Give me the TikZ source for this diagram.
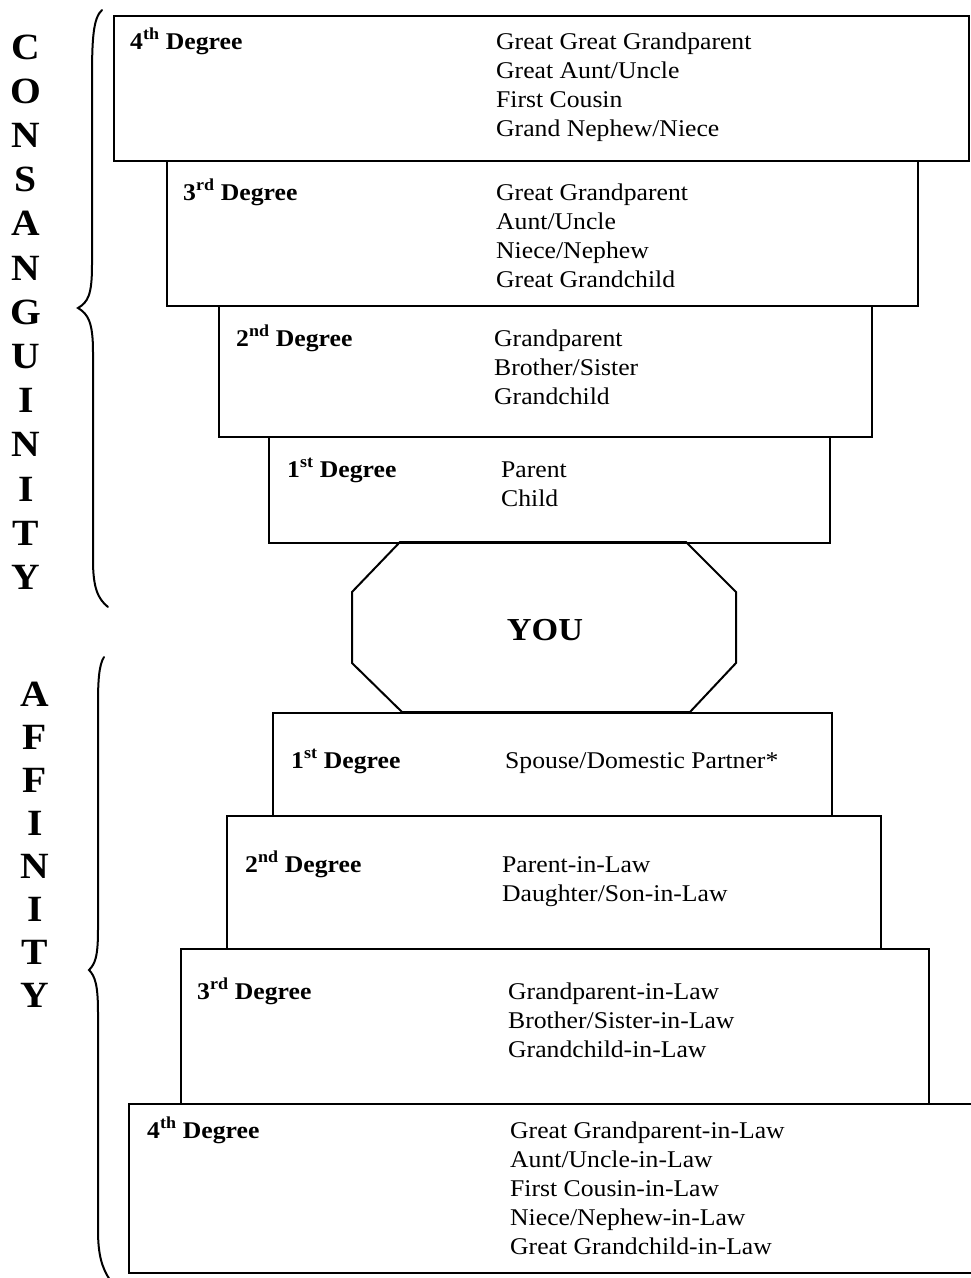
\documentclass[tikz,border=0pt]{standalone}
\usepackage{fontspec}
\setmainfont{Liberation Serif}[FakeStretch=1.07]
\newcommand\degitems[4]{%
  \foreach \t [count=\i from 0] in {#4} {
    \node[itemtext] (#1-\i) at (#2,{#3+29*\i}) {\t};
  }%
}
\begin{document}
\begin{tikzpicture}[x=1pt,y=-1pt,
  box/.style={draw, line width=2pt, anchor=north west, inner sep=0pt},
  itemtext/.style={anchor=base west, inner sep=0pt, font=\fontsize{24}{29}\selectfont},
  deglabel/.style={anchor=base west, inner sep=0pt, font=\fontsize{24}{29}\selectfont\bfseries},
  bigletter/.style={anchor=base, inner sep=0pt, font=\fontsize{37}{40}\selectfont\bfseries},
  bracestyle/.style={line width=2pt, line cap=round}]
\useasboundingbox (0,0) rectangle (971,1278);
% consanguinity boxes
\node[box, minimum width=855pt, minimum height=145pt] (c4) at (113,15) {};
\node[box, minimum width=751pt, minimum height=145pt] (c3) at (166,160) {};
\node[box, minimum width=653pt, minimum height=131pt] (c2) at (218,305) {};
\node[box, minimum width=561pt, minimum height=106pt] (c1) at (268,436) {};
% affinity boxes
\node[box, minimum width=559pt, minimum height=103pt] (a1) at (272,712) {};
\node[box, minimum width=654pt, minimum height=133pt] (a2) at (226,815) {};
\node[box, minimum width=748pt, minimum height=155pt] (a3) at (180,948) {};
\node[box, minimum width=850pt, minimum height=169pt] (a4) at (128,1103) {};
% YOU octagon
\draw[line width=2pt, line join=miter] (400,542) -- (686,542) -- (736,592) -- (736,663) -- (690,712) -- (402,712) -- (352,663) -- (352,592) -- cycle;
\node[anchor=base, inner sep=0pt, font=\fontsize{32}{36}\selectfont\bfseries] (you) at (545,640) {YOU};
% labels
\node[deglabel] (lc4) at (130,49) {4\textsuperscript{th} Degree};
\node[deglabel] (lc3) at (183,200) {3\textsuperscript{rd} Degree};
\node[deglabel] (lc2) at (236,346) {2\textsuperscript{nd} Degree};
\node[deglabel] (lc1) at (287,477) {1\textsuperscript{st} Degree};
\node[deglabel] (la1) at (291,768) {1\textsuperscript{st} Degree};
\node[deglabel] (la2) at (245,872) {2\textsuperscript{nd} Degree};
\node[deglabel] (la3) at (197,999) {3\textsuperscript{rd} Degree};
\node[deglabel] (la4) at (147,1138) {4\textsuperscript{th} Degree};
% items
\degitems{ic4}{496}{49}{Great Great Grandparent,Great Aunt/Uncle,First Cousin,Grand Nephew/Niece}
\degitems{ic3}{496}{200}{Great Grandparent,Aunt/Uncle,Niece/Nephew,Great Grandchild}
\degitems{ic2}{494}{346}{Grandparent,Brother/Sister,Grandchild}
\degitems{ic1}{501}{477}{Parent,Child}
\degitems{ia1}{505}{768}{Spouse/Domestic Partner*}
\degitems{ia2}{502}{872}{Parent-in-Law,Daughter/Son-in-Law}
\degitems{ia3}{508}{999}{Grandparent-in-Law,Brother/Sister-in-Law,Grandchild-in-Law}
\degitems{ia4}{510}{1138}{Great Grandparent-in-Law,Aunt/Uncle-in-Law,First Cousin-in-Law,Niece/Nephew-in-Law,Great Grandchild-in-Law}
% vertical words
\foreach \L [count=\i from 0] in {C,O,N,S,A,N,G,U,I,N,I,T,Y}
  \node[bigletter] (cons-\i) at (26,{59+44.2*\i}) {\L};
\foreach \L [count=\i from 0] in {A,F,F,I,N,I,T,Y}
  \node[bigletter] (aff-\i) at (35,{706+43*\i}) {\L};
% braces
\draw[bracestyle] (102,10) .. controls (93,18) and (92,40) .. (92,80) -- (92,265)
  .. controls (92,295) and (88,302) .. (78,308)
  .. controls (88,314) and (93,322) .. (93,352) -- (93,560)
  .. controls (93,588) and (98,599) .. (108,607);
\draw[bracestyle] (104,657) .. controls (99,665) and (98,680) .. (98,705) -- (98,930)
  .. controls (98,957) and (95,964) .. (89,970)
  .. controls (95,976) and (98,985) .. (98,1012) -- (98,1230)
  .. controls (98,1255) and (102,1268) .. (110,1280);
\end{tikzpicture}
\end{document}
